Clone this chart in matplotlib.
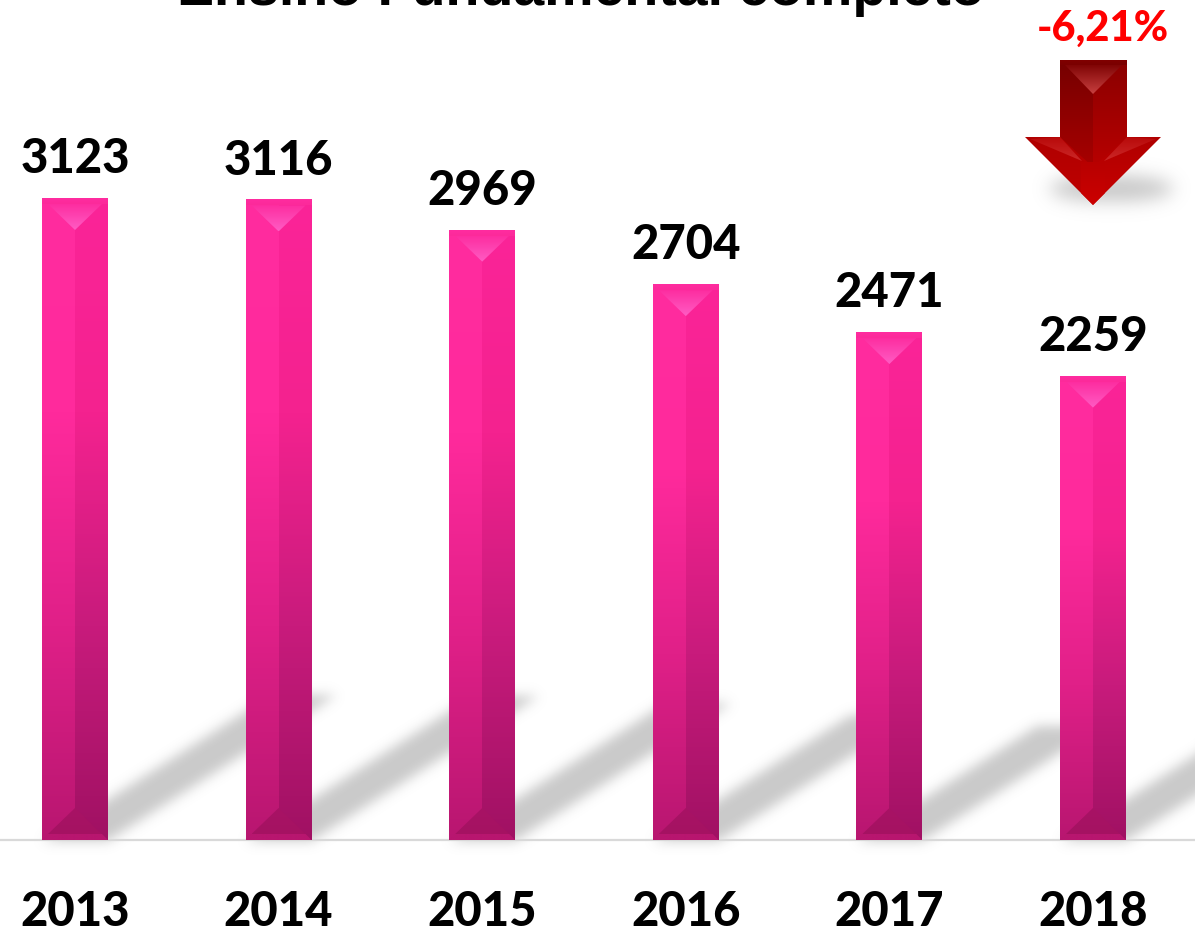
import numpy as np
import matplotlib
matplotlib.use("Agg")
import matplotlib.pyplot as plt
from matplotlib.colors import LinearSegmentedColormap
from matplotlib.patches import Polygon

anos = ["2013", "2014", "2015", "2016", "2017", "2018"]
valores = [3123, 3116, 2969, 2704, 2471, 2259]
titulo = "Ensino Fundamental completo"
variacao = "-6,21%"

W, H = 1195, 931
PASSO = 203.6        # px entre barras
X0 = 75              # px do centro da primeira barra
BASE = 840           # px da linha de base
ESCALA = 642 / 3123  # px por unidade


def borrar(img, sigma):
    # blur gaussiano simples nas duas direcoes
    r = int(3 * sigma)
    k = np.exp(-np.arange(-r, r + 1) ** 2 / (2 * sigma ** 2))
    k /= k.sum()
    img = np.apply_along_axis(lambda l: np.convolve(l, k, mode="same"), 0, img)
    img = np.apply_along_axis(lambda l: np.convolve(l, k, mode="same"), 1, img)
    return img


def gradiente(ax, pts, cores, horizontal=False, z=3):
    # preenche um poligono com gradiente linear
    pts = np.array(pts)
    x0, x1 = pts[:, 0].min(), pts[:, 0].max()
    y0, y1 = pts[:, 1].min(), pts[:, 1].max()
    cm = LinearSegmentedColormap.from_list("g", cores)
    g = np.linspace(0, 1, 256)
    g = g.reshape(1, -1) if horizontal else g.reshape(-1, 1)
    im = ax.imshow(g, cmap=cm, vmin=0, vmax=1, extent=(x0, x1, y1, y0),
                   aspect="auto", zorder=z, interpolation="bilinear")
    clip = Polygon(pts, closed=True, transform=ax.transData)
    im.set_clip_path(clip)
    return im


fig = plt.figure(figsize=(W / 100, H / 100), dpi=100, facecolor="white")

# eixo principal: categorias e valores
ax = fig.add_axes([0, 0, 1, 1])
ax.set_xlim(-X0 / PASSO, (W - X0) / PASSO)
ax.set_ylim(-(H - BASE) / ESCALA, BASE / ESCALA)
ax.patch.set_alpha(0)
for lado in ["top", "left", "right"]:
    ax.spines[lado].set_visible(False)
ax.spines["bottom"].set_position(("data", 0))
ax.spines["bottom"].set_color("#d9d9d9")
ax.spines["bottom"].set_linewidth(1.6)
ax.spines["bottom"].set_zorder(1)
ax.set_yticks([])
pos = np.arange(len(anos))
ax.set_xticks(pos)
ax.set_xticklabels(anos, family="Lato", weight=900, fontsize=34, color="black")
ax.tick_params(axis="x", length=0, pad=36)
barras = ax.bar(pos, valores, width=65 / PASSO, color="#e0208c", zorder=2)
for b, v in zip(barras, valores):
    ax.annotate(str(v), (b.get_x() + b.get_width() / 2, v), xytext=(0, 12),
                textcoords="offset points", ha="center", va="bottom",
                family="Lato", weight=900, fontsize=34, color="black")

# camada em pixels para sombras, facetas e seta
deco = fig.add_axes([0, 0, 1, 1], zorder=-1)
deco.set_axis_off()
topo = fig.add_axes([0, 0, 1, 1], zorder=3)
topo.set_axis_off()
topo.patch.set_alpha(0)

# sombras projetadas, proporcionais a altura da barra
yy, xx = np.mgrid[0:H, 0:W + 60]
sombra = np.zeros(xx.shape)
for i, v in enumerate(valores):
    h = v * ESCALA
    cx = X0 + i * PASSO
    dx, dy = 0.354 * h, 0.226 * h
    t = (BASE - yy) / dy
    dentro = (t >= 0) & (t <= 1) & (xx >= cx - 32 + dx * t) & (xx <= cx + 33 + dx * t)
    sombra = np.maximum(sombra, dentro * 1.0)
sombra = borrar(sombra, 6)[:, :W]
rgba = np.zeros((H, W, 4))
rgba[..., :3] = 0.62
rgba[..., 3] = sombra * 0.55
deco.imshow(rgba, extent=(0, W, H, 0), aspect="auto", interpolation="bilinear")
deco.set_xlim(0, W)
deco.set_ylim(H, 0)

# facetas de cada barra
for i, v in enumerate(valores):
    cx = X0 + i * PASSO
    x0, x1 = cx - 33, cx + 33
    y0 = BASE - v * ESCALA
    y1 = BASE
    m = 6   # margem do chanfro
    ap = 32 # altura dos triangulos
    esq = ["#ff2c9f", "#ff2a9c", "#e02088", "#b81670"]
    dir_ = ["#fb2498", "#f4228f", "#c81b7c", "#a01163"]
    gradiente(topo, [(x0, y0), (cx, y0), (cx, y1), (x0, y1)], esq)
    gradiente(topo, [(cx, y0), (x1, y0), (x1, y1), (cx, y1)], dir_)
    gradiente(topo, [(x0, y0), (x1, y0), (x1, y0 + m), (x0, y0 + m)], ["#ff2ca0", "#fc2a9a"])
    gradiente(topo, [(x0 + m, y0 + m), (x1 - m, y0 + m), (cx, y0 + ap)], ["#fd2da0", "#ff5cc4"])
    gradiente(topo, [(x0, y1), (x1, y1), (x1 - m, y1 - m), (x0 + m, y1 - m)], ["#b8166f", "#b8166f"])
    gradiente(topo, [(x0 + m, y1 - m), (x1 - m, y1 - m), (cx, y1 - ap)], ["#a81365", "#a51262"])

# seta de queda sobre a ultima barra
ax_c = X0 + 5 * PASSO
sx0, sx1 = ax_c - 33, ax_c + 34
hx0, hx1 = ax_c - 68, ax_c + 68
y_t, y_o, y_p = 60, 137, 205

# sombra da seta
ys, xs = np.mgrid[0:H, 0:W]
d = ((xs - (ax_c + 18)) / 62.0) ** 2 + ((ys - 188) / 13.0) ** 2
s2 = borrar((d < 1) * 1.0, 9)
rgba2 = np.zeros((H, W, 4))
rgba2[..., :3] = 0.6
rgba2[..., 3] = s2 * 0.55
topo.imshow(rgba2, extent=(0, W, H, 0), aspect="auto", zorder=2.5, interpolation="bilinear")

gradiente(topo, [(sx0, y_t), (ax_c, y_t), (ax_c, y_o + 30), (sx0, y_o + 30)], ["#750000", "#a80000"], z=4)
gradiente(topo, [(ax_c, y_t), (sx1, y_t), (sx1, y_o + 30), (ax_c, y_o + 30)], ["#8a0000", "#b80000"], z=4)
gradiente(topo, [(sx0, y_t), (sx1, y_t), (sx1, y_t + 5), (sx0, y_t + 5)], ["#800000", "#7a0000"], z=4)
gradiente(topo, [(sx0 + 5, y_t + 5), (sx1 - 5, y_t + 5), (ax_c, y_t + 34)], ["#800505", "#c84040"], z=4)
gradiente(topo, [(hx0, y_o), (sx0, y_o), (ax_c, y_o + 30), (ax_c, y_p)], ["#b00000", "#c00000"], z=4)
gradiente(topo, [(hx1, y_o), (sx1, y_o), (ax_c, y_o + 30), (ax_c, y_p)], ["#b00000", "#c80000"], z=4)
gradiente(topo, [(hx0 + 5, y_o + 2), (sx0, y_o), (ax_c - 11, y_o + 24)], ["#b80a0a", "#cc2828"], z=4)
gradiente(topo, [(hx1 - 5, y_o + 2), (sx1, y_o), (ax_c + 11, y_o + 24)], ["#b80a0a", "#cc2828"], z=4)
gradiente(topo, [(ax_c - 12, y_o + 25), (ax_c + 12, y_o + 25), (ax_c + 12, y_p - 12), (ax_c, y_p), (ax_c - 12, y_p - 12)],
          ["#b80000", "#cc0000"], z=4)
topo.set_xlim(0, W)
topo.set_ylim(H, 0)

topo.text(581, 5, titulo, ha="center", va="baseline", family="Liberation Sans",
          weight="bold", fontsize=40, color="black")
topo.text(1103, 41, variacao, ha="center", va="baseline", family="Lato",
          weight=900, fontsize=30, color="#ff0000")

fig.savefig("out.png", dpi=100)
